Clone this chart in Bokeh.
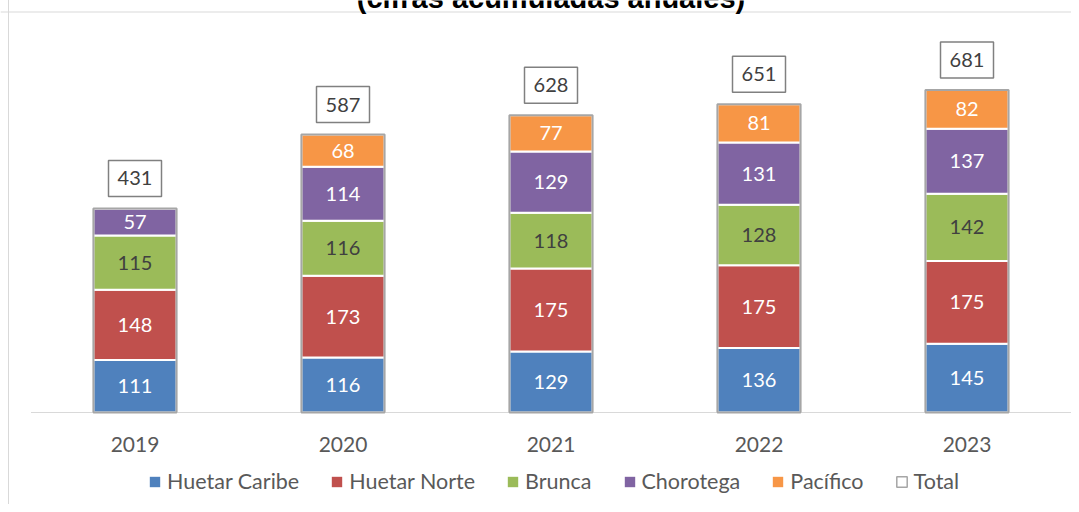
from bokeh.plotting import figure
from bokeh.layouts import column
from bokeh.models import (Range1d, FixedTicker, Legend, LegendItem,
                          Span, Label, ColumnDataSource)
from bokeh.core.properties import value
from bokeh.embed import file_html
from bokeh.resources import INLINE

# ---------------- data ----------------
years = ["2019", "2020", "2021", "2022", "2023"]
huetar_caribe = [111, 116, 129, 136, 145]
huetar_norte = [148, 173, 175, 175, 175]
brunca = [115, 116, 118, 128, 142]
chorotega = [57, 114, 129, 131, 137]
pacifico = [0, 68, 77, 81, 82]
total = [431, 587, 628, 651, 681]

series_names = ["Huetar Caribe", "Huetar Norte", "Brunca", "Chorotega", "Pacífico"]
series_values = [huetar_caribe, huetar_norte, brunca, chorotega, pacifico]
total_name = "Total"
title_text = "(cifras acumuladas anuales)"

# ---------------- style ----------------
colors = ["#4f81bd", "#c0504d", "#9bbb59", "#8064a2", "#f79646"]
label_colors = ["#ffffff", "#ffffff", "#404040", "#ffffff", "#ffffff"]
FONT = "Lato"
PX = 0.4735            # pixels per value unit
BASE_PX = 412          # baseline distance from canvas top
CAT_PX = 208           # pixels per category
FIRST_PX = 134.5       # centre of first category
W = 1071
y_end = BASE_PX / PX
y_start = -2 / PX
x_start = -FIRST_PX / CAT_PX
x_end = (W - FIRST_PX) / CAT_PX
BG = ("linear-gradient(to right, #ffffff 8px, #d9d9d9 8px, #d9d9d9 9px, "
      "#ffffff 9px)")

n = len(years)
xs = list(range(n))
keys = ["s%d" % j for j in range(len(series_names))]

data = dict(x=xs, total=total, total_txt=[str(t) for t in total],
            box_y=[t + 30 / PX for t in total])
for k, v in zip(keys, series_values):
    data[k] = v
src = ColumnDataSource(data)

p = figure(width=W, height=462, output_backend="svg", toolbar_location=None,
           x_range=Range1d(x_start, x_end), y_range=Range1d(y_start, y_end),
           min_border_left=0, min_border_right=0, min_border_top=0,
           min_border_bottom=48)
p.yaxis.visible = False
p.grid.visible = False
p.outline_line_color = None
p.background_fill_alpha = 0
p.border_fill_alpha = 0
p.styles = {"background": BG}

p.xaxis.ticker = FixedTicker(ticks=xs)
p.xaxis.major_label_overrides = {i: y for i, y in enumerate(years)}
p.xaxis.axis_line_color = None
p.xaxis.major_tick_line_color = None
p.xaxis.minor_tick_line_color = None
p.xaxis.major_tick_in = 0
p.xaxis.major_tick_out = 0
p.xaxis.major_label_text_font = FONT
p.xaxis.major_label_text_font_size = "21px"
p.xaxis.major_label_text_color = "#595959"
p.xaxis.major_label_standoff = 22

# chart-area border line (top)
p.add_layout(Span(location=(BASE_PX - 11.5) / PX, dimension="width",
                  line_color="#d9d9d9", line_width=1))

# baseline
p.line(x=[-0.5, n - 0.5], y=[0, 0], line_color="#d9d9d9", line_width=1)

# stacked segments
p.vbar_stack(keys, x="x", width=0.4, source=src, fill_color=colors,
             line_color="white", line_width=2)
# total outline bars
p.vbar(x="x", top="total", width=0.4, source=src, fill_color=None,
       line_color="#a6a6a6", line_width=2)

# segment labels
lx, ly, lt, lc = [], [], [], []
cum = [0] * n
for j, vals in enumerate(series_values):
    for i, v in enumerate(vals):
        if v > 0:
            lx.append(i)
            ly.append(cum[i] + v / 2)
            lt.append(str(v))
            lc.append(label_colors[j])
        cum[i] += v
lsrc = ColumnDataSource(dict(x=lx, y=ly, t=lt, c=lc))
p.text(x="x", y="y", text="t", text_color="c", source=lsrc,
       text_align="center", text_baseline="middle",
       text_font=value(FONT), text_font_size="20px")

# total labels in boxes
p.rect(x="x", y="box_y", width=53, height=36, width_units="screen",
       height_units="screen", source=src, fill_color="white",
       line_color="#808080", line_width=1.5)
p.text(x="x", y="box_y", text="total_txt", source=src,
       text_align="center", text_baseline="middle", text_color="#404040",
       text_font=value(FONT), text_font_size="20px")

# title (cut at the top of the picture, as in the reference)
p.add_layout(Label(x=(n - 1) / 2, y=(BASE_PX + 3) / PX, text=title_text,
                   text_align="center", text_baseline="alphabetic",
                   text_font="Liberation Sans", text_font_style="bold",
                   text_font_size="29px", text_color="#000000"))

# ---------------- legend strip ----------------
p2 = figure(width=W, height=42, output_backend="svg", toolbar_location=None,
            x_range=Range1d(0, 1), y_range=Range1d(0, 1),
            min_border_left=0, min_border_right=0, min_border_top=0,
            min_border_bottom=0)
p2.xaxis.visible = False
p2.yaxis.visible = False
p2.grid.visible = False
p2.outline_line_color = None
p2.background_fill_alpha = 0
p2.border_fill_alpha = 0
p2.styles = {"background": BG}

items = []
for name, c in zip(series_names, colors):
    r = p2.vbar(x=[0], top=[0], width=0.0, fill_color=c, line_color=None)
    items.append(LegendItem(label=name, renderers=[r]))
rt = p2.vbar(x=[0], top=[0], width=0.0, fill_color="white",
             line_color="#a6a6a6", line_width=1.5)
items.append(LegendItem(label=total_name, renderers=[rt]))
legend = Legend(items=items, orientation="horizontal", location=(148, 8),
                glyph_width=13, glyph_height=13, label_standoff=6, spacing=31,
                label_text_font=FONT, label_text_font_size="21.5px",
                label_text_color="#595959", label_height=30,
                border_line_color=None, background_fill_alpha=0,
                padding=0, margin=0)
p2.add_layout(legend)

layout = column(p, p2, spacing=0)
open("out.html", "w").write(file_html(layout, INLINE))
